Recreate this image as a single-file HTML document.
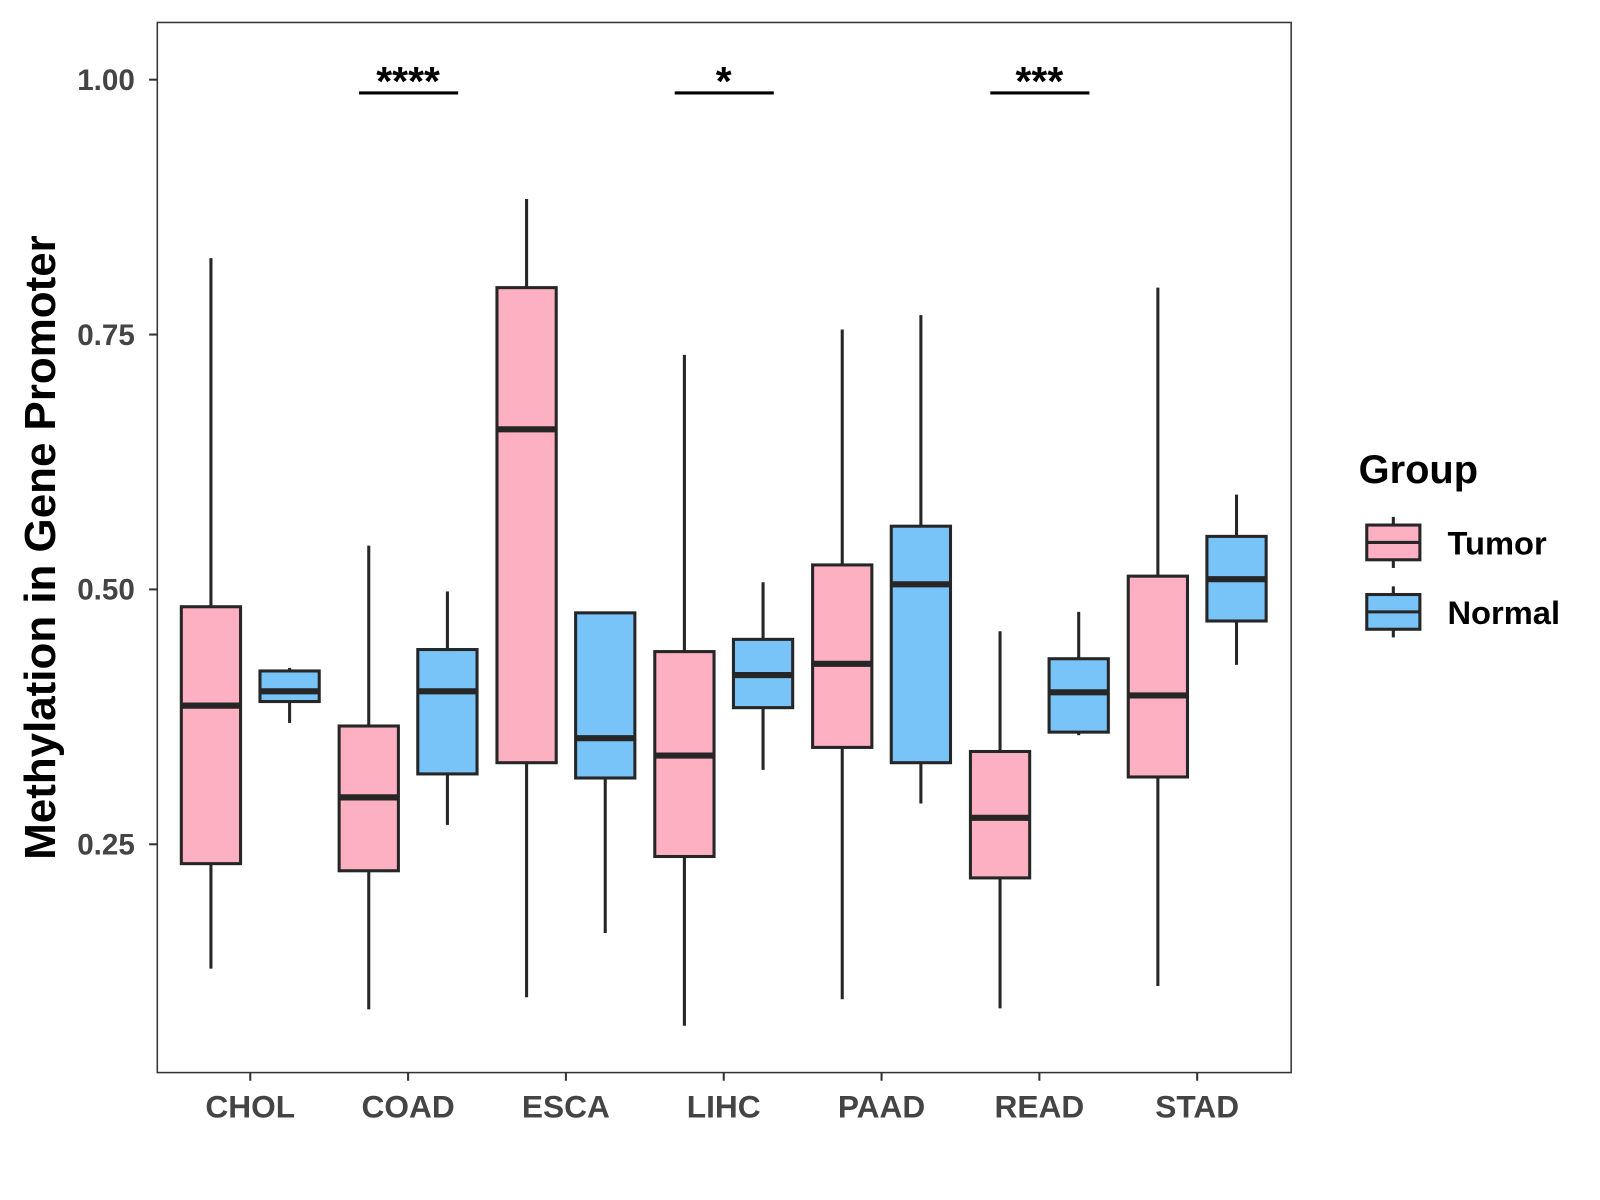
<!DOCTYPE html>
<html><head><meta charset="utf-8"><style>
body{margin:0;background:#fff;}
svg{display:block;font-family:"Liberation Sans",Arial,sans-serif;}
</style></head><body>
<svg width="1600" height="1200"><g id="chart" transform="scale(1.0215)"></g></svg>
<script>
const categories=["CHOL","COAD","ESCA","LIHC","PAAD","READ","STAD"];
const tumorStats=[[0.128,0.231,0.386,0.483,0.825],[0.088,0.224,0.296,0.366,0.543],[0.100,0.330,0.657,0.796,0.883],[0.072,0.238,0.337,0.439,0.730],[0.098,0.345,0.427,0.524,0.755],[0.089,0.217,0.276,0.341,0.459],[0.111,0.316,0.396,0.513,0.796]];
const normalStats=[[0.369,0.390,0.400,0.420,0.423],[0.269,0.319,0.400,0.441,0.498],[0.163,0.315,0.354,0.477,0.477],[0.323,0.384,0.416,0.451,0.507],[0.290,0.330,0.505,0.562,0.769],[0.357,0.360,0.399,0.432,0.478],[0.426,0.469,0.510,0.552,0.593]];
const yTicks=[0.25,0.50,0.75,1.00];
const yTickLabels=["0.25","0.50","0.75","1.00"];
const sigCategories=["COAD","LIHC","READ"];
const sigLabels=["****","*","***"];
const sigLevel=0.987;

const NS="http://www.w3.org/2000/svg";
const svg=document.getElementById("chart");
const L=154,R=1264,T=22,B=1050;
function y(v){return 78+(1-v)*998;}
function x(i){return 245+i*154.5;}
function mk(tag,attrs,parent){const e=document.createElementNS(NS,tag);for(const k in attrs)e.setAttribute(k,attrs[k]);(parent||svg).appendChild(e);return e;}

const frame=mk("rect",{x:L,y:T,width:R-L,height:B-T,fill:"none",stroke:"#333",'stroke-width':1.5});



yTicks.forEach((v,i)=>{
  const g=mk("g",{});
  
  
  mk("line",{x1:L-8,x2:L,y1:y(v),y2:y(v),stroke:"#333",'stroke-width':2},g);
  const t=mk("text",{x:L-22,y:y(v)+10,'text-anchor':"end",'font-size':29,'font-weight':"bold",fill:"#444"},g);
  t.textContent=yTickLabels[i];
});
categories.forEach((c,i)=>{
  const g=mk("g",{});
  
  
  mk("line",{x1:x(i),x2:x(i),y1:B,y2:B+8,stroke:"#333",'stroke-width':2},g);
  const t=mk("text",{x:x(i),y:B+44,'text-anchor':"middle",'font-size':31,'font-weight':"bold",fill:"#444"},g);
  t.textContent=c;
});
const yt=mk("text",{x:0,y:0,transform:"translate(54,536) rotate(-90)",'text-anchor':"middle",'font-size':43,'font-weight':"bold",fill:"#000"});
yt.textContent="Methylation in Gene Promoter";



function box(cx,s,fill,name){
  const g=mk("g",{});
  
  
  const w=58;
  mk("line",{x1:cx,x2:cx,y1:y(s[0]),y2:y(s[1]),stroke:"#262626",'stroke-width':3},g);
  mk("line",{x1:cx,x2:cx,y1:y(s[3]),y2:y(s[4]),stroke:"#262626",'stroke-width':3},g);
  mk("rect",{x:cx-w/2,y:y(s[3]),width:w,height:y(s[1])-y(s[3]),fill:fill,stroke:"#262626",'stroke-width':3},g);
  mk("line",{x1:cx-w/2,x2:cx+w/2,y1:y(s[2]),y2:y(s[2]),stroke:"#262626",'stroke-width':6},g);
}
categories.forEach((c,i)=>{
  box(x(i)-38.5,tumorStats[i],"#FCB0C2","box-tumor-"+c.toLowerCase());
  box(x(i)+38.5,normalStats[i],"#78C3F8","box-normal-"+c.toLowerCase());
});
sigCategories.forEach((c,k)=>{
  const i=categories.indexOf(c);
  const g=mk("g",{});
  
  
  mk("line",{x1:x(i)-48,x2:x(i)+49,y1:y(sigLevel),y2:y(sigLevel),stroke:"#000",'stroke-width':3},g);
  const t=mk("text",{x:x(i),y:y(sigLevel)+2,'text-anchor':"middle",'font-size':40,'font-weight':"bold",fill:"#000"},g);
  t.textContent=sigLabels[k];
});
const lg=mk("g",{});


const lt=mk("text",{x:1330,y:473,'font-size':39,'font-weight':"bold",fill:"#000"},lg);
lt.textContent="Group";
[["Tumor","#FCB0C2",531],["Normal","#78C3F8",599]].forEach(([n,f,cy])=>{
  const g=mk("g",{},lg);
  
  
  mk("line",{x1:1364,x2:1364,y1:cy-25,y2:cy+25,stroke:"#262626",'stroke-width':3},g);
  mk("rect",{x:1338,y:cy-17,width:52,height:34,fill:f,stroke:"#262626",'stroke-width':3},g);
  mk("line",{x1:1338,x2:1390,y1:cy,y2:cy,stroke:"#262626",'stroke-width':3},g);
  const t=mk("text",{x:1417,y:cy+12,'font-size':32,'font-weight':"bold",fill:"#000"},g);
  t.textContent=n;
});
</script>
</body></html>
